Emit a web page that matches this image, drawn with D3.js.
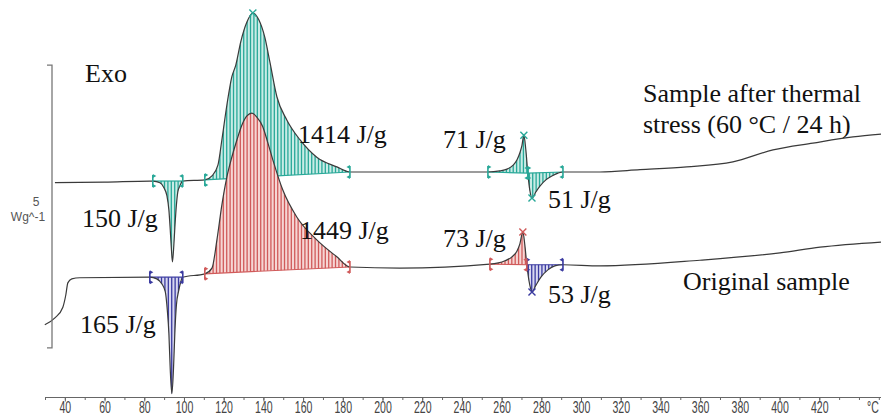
<!DOCTYPE html>
<html><head><meta charset="utf-8">
<script src="https://cdn.jsdelivr.net/npm/d3@7"></script>
<style>body{margin:0;background:#fff}svg{display:block}</style>
</head><body><svg id="c" width="881" height="419"></svg>
<script>
// ---- data (temperature °C, heat flow W/g, arbitrary offset) ----
const tempUpper = [35.0, 60, 82.8, 84.3, 87.9, 89.9, 91.4, 92.4, 93.1, 93.7, 94.2, 94.9, 95.4,
  96.2, 96.9, 97.9, 99.4,
  110.5, 114.1, 117.1, 119.1, 121.6, 124.1, 126.1, 128.6, 131.7, 134.7, 137.7, 140.8, 143.3, 146.8,
  151.8, 158.4, 166.9, 177.0, 183.6, 208.8, 253.1, 259.1, 262.7, 265.8, 267.7, 269.2, 270.2, 271.2,
  272.2, 273.2, 274.2, 275.3, 277.3, 279.3, 282.3, 285.3, 288.4, 290.9, 309.5, 329.7, 353.3, 376.5,
  396.7, 416.8, 437.0, 451.1];
const hfUpper = [3.77, 3.78, 3.80, 3.80, 3.77, 3.68, 3.54, 3.29, 2.93, 2.58, 2.37, 2.67, 2.97,
  3.38, 3.61, 3.71, 3.80,
  3.82, 3.89, 4.08, 4.53, 5.14, 5.64, 5.85, 6.26, 6.61, 6.77, 6.65, 6.33, 5.90, 5.29,
  4.88, 4.53, 4.22, 4.05, 3.96, 3.96, 3.96, 3.98, 4.01, 4.08, 4.17, 4.30, 4.42, 4.61,
  4.35, 3.94, 3.64, 3.50, 3.61, 3.71, 3.82, 3.89, 3.94, 3.96, 3.96, 4.00, 4.05, 4.14,
  4.35, 4.47, 4.58, 4.63];
const tempLower = [29.9, 35.0, 39.0, 40.5, 41.5, 43.5, 47.6, 82.8, 86.3, 88.9, 90.6, 91.6, 92.4,
  93.1, 93.9, 94.7, 95.4, 96.2, 97.4, 98.4, 99.4,
  110.5, 114.1, 116.6, 119.1, 121.6, 124.1, 126.7, 129.2, 131.7,
  134.2, 136.7, 139.7, 142.3, 144.8, 149.8, 156.9, 166.9, 177.0, 183.6, 208.8, 254.1, 261.7,
  265.2, 267.7, 269.2, 270.7, 271.7, 272.7, 274.2, 275.3, 277.3, 279.8, 283.3, 286.8, 290.9,
  309.5, 359.9, 400.2, 420.4, 451.1];
const hfLower = [1.26, 1.38, 1.57, 1.79, 2.00, 2.07, 2.09, 2.10, 2.07, 1.98, 1.84, 1.52, 1.11,
  0.46, 0.04, 0.46, 1.11, 1.61, 1.87, 2.02, 2.10,
  2.16, 2.26, 2.76, 3.38, 3.87, 4.22, 4.53, 4.79, 4.95,
  5.00, 4.93, 4.76, 4.47, 4.17, 3.64, 3.16, 2.76, 2.46, 2.28, 2.26, 2.33, 2.39,
  2.46, 2.56, 2.69, 2.90, 2.67, 2.32, 1.96, 1.84, 1.96, 2.10, 2.23, 2.30, 2.32,
  2.30, 2.40, 2.53, 2.63, 2.72];

// integration limits
const upperStart = [84.3, 110.5, 253.1, 273.2];
const upperEnd   = [99.4, 183.6, 273.2, 290.9];
const upperKind  = ["teal", "teal", "teal", "teal"];
const lowerStart = [82.8, 110.5, 254.1, 272.7];
const lowerEnd   = [99.4, 183.6, 272.7, 290.9];
const lowerKind  = ["blue", "red", "red", "blue"];
// peak markers
const upperPeakT = [134.7, 271.2, 275.3];
const lowerPeakT = [270.7, 275.3];
const lowerPeakKind = ["red", "blue"];

const xTicks = d3.range(40, 421, 20);
const xMinor = d3.range(30, 451, 10);
const scaleBar = [0.85, 5.85];

const palette = {
  teal: {stroke: "#28a898", fill: "#c9ece6"},
  red:  {stroke: "#d05a5a", fill: "#f6d6d4"},
  blue: {stroke: "#3a3aa0", fill: "#d8d8f0"}
};

// ---- scales ----
const svg = d3.select("#c");
const x = d3.scaleLinear().domain([30, 451.1]).range([45, 881]);
const y = d3.scaleLinear().domain([0, 7]).range([396, 0]);

const upper = tempUpper.map((t, i) => ({t, v: hfUpper[i]}));
const lower = tempLower.map((t, i) => ({t, v: hfLower[i]}));

const curveType = d3.curveMonotoneX;
const line = d3.line().x(d => x(d.t)).y(d => y(d.v)).curve(curveType);

const defs = svg.append("defs");
const gFill = svg.append("g");
let clipId = 0;

function drawRegions(series, starts, ends, kinds) {
  starts.forEach((t0, i) => {
    const t1 = ends[i];
    const p0 = series.find(d => d.t === t0), p1 = series.find(d => d.t === t1);
    const pts = series.filter(d => d.t >= t0 && d.t <= t1);
    const base = t => p0.v + (p1.v - p0.v) * (t - t0) / (t1 - t0);
    const area = d3.area().x(d => x(d.t)).y0(d => y(base(d.t))).y1(d => y(d.v)).curve(curveType);
    const col = palette[kinds[i]];
    const id = "clip" + (clipId++);
    defs.append("clipPath").attr("id", id).append("path").attr("d", area(pts));
    const g = gFill.append("g").attr("clip-path", `url(#${id})`);
    g.append("path").attr("d", area(pts)).attr("fill", col.fill);
    const xs = d3.range(x(t0) + 1.5, x(t1), 3.4);
    g.selectAll("line").data(xs).join("line")
      .attr("x1", d => d).attr("x2", d => d).attr("y1", 0).attr("y2", 419)
      .attr("stroke", col.stroke).attr("stroke-width", 1.3);
    gFill.append("line").attr("x1", x(t0)).attr("x2", x(t1))
      .attr("y1", y(p0.v)).attr("y2", y(p1.v))
      .attr("stroke", col.stroke).attr("stroke-width", 1.2);
  });
}
drawRegions(upper, upperStart, upperEnd, upperKind);
drawRegions(lower, lowerStart, lowerEnd, lowerKind);

// curves
svg.append("path").datum(upper).attr("d", line).attr("fill", "none")
  .attr("stroke", "#3a3a3a").attr("stroke-width", 1.2);
svg.append("path").datum(lower).attr("d", line).attr("fill", "none")
  .attr("stroke", "#3a3a3a").attr("stroke-width", 1.2);

// limit markers
function limitMarker(series, t, kind, dir) {
  const p = series.find(d => d.t === t);
  const cx = x(t), cy = y(p.v), col = palette[kind].stroke;
  const g = svg.append("g");
  g.append("line").attr("x1", cx).attr("x2", cx).attr("y1", cy - 6).attr("y2", cy + 6)
    .attr("stroke", col).attr("stroke-width", 1.6);
  [-5, 5].forEach(o => {
    g.append("path").attr("d", `M${cx},${cy + o - 2}L${cx + 3.5 * dir},${cy + o}L${cx},${cy + o + 2}Z`)
      .attr("fill", col);
  });
}
upperStart.forEach((t, i) => limitMarker(upper, t, upperKind[i], 1));
upperEnd.forEach((t, i) => limitMarker(upper, t, upperKind[i], -1));
lowerStart.forEach((t, i) => limitMarker(lower, t, lowerKind[i], 1));
lowerEnd.forEach((t, i) => limitMarker(lower, t, lowerKind[i], -1));

// peak crosses
function cross(series, t, kind) {
  const p = series.find(d => d.t === t);
  const cx = x(t), cy = y(p.v), s = 3.5, col = palette[kind].stroke;
  svg.append("path").attr("d", `M${cx - s},${cy - s}L${cx + s},${cy + s}M${cx - s},${cy + s}L${cx + s},${cy - s}`)
    .attr("stroke", col).attr("stroke-width", 1.4);
}
upperPeakT.forEach(t => cross(upper, t, "teal"));
lowerPeakT.forEach((t, i) => cross(lower, t, lowerPeakKind[i]));

// x axis
const sx = 0.66;
const axisG = svg.append("g").attr("transform", `translate(0,${y(0) + 1})`);
axisG.append("g").call(d3.axisBottom(x).tickValues(xMinor).tickSize(3).tickFormat(""))
  .call(g => g.select(".domain").remove())
  .selectAll("line").attr("stroke", "#666");
const major = axisG.append("g").call(d3.axisBottom(x).tickValues(xTicks).tickSize(4.5).tickSizeOuter(0).tickFormat(d3.format("d")));
major.select(".domain").attr("stroke", "#666").attr("stroke-width", 1.2);
major.selectAll("line").attr("stroke", "#666");
major.selectAll("text").attr("y", 5).attr("fill", "#444")
  .attr("font-family", "Liberation Sans, Arial, sans-serif").attr("font-size", 16)
  .attr("transform", `scale(${sx},1)`);
svg.append("text").attr("x", 0).attr("y", y(0) + 17.5).attr("text-anchor", "middle")
  .attr("transform", `translate(873,0) scale(${sx},1)`)
  .attr("fill", "#444").attr("font-family", "Liberation Sans, Arial, sans-serif").attr("font-size", 16)
  .text("°C");

// scale bar
const sb = svg.append("g").attr("stroke", "#777").attr("stroke-width", 1.3).attr("fill", "none");
sb.append("path").attr("d", `M47,${y(scaleBar[1])}H52V${y(scaleBar[0])}H47`);
svg.append("text").attr("x", 36).attr("y", 206).attr("text-anchor", "middle")
  .attr("font-family", "Liberation Sans, Arial, sans-serif").attr("font-size", 12).attr("fill", "#555").text("5");
svg.append("text").attr("x", 28).attr("y", 221).attr("text-anchor", "middle")
  .attr("font-family", "Liberation Sans, Arial, sans-serif").attr("font-size", 12).attr("fill", "#555").text("Wg^-1");

// annotations
const labels = [
  ["Exo", 85, 82], ["150 J/g", 82, 227], ["165 J/g", 80, 333],
  ["1414 J/g", 298, 143], ["1449 J/g", 300, 239],
  ["71 J/g", 443, 148], ["51 J/g", 548, 208], ["73 J/g", 443, 247], ["53 J/g", 548, 303],
  ["Sample after thermal", 643, 102], ["stress (60 °C / 24 h)", 643, 133], ["Original sample", 683, 290]
];
svg.append("g").selectAll("text").data(labels).join("text")
  .attr("x", d => d[1]).attr("y", d => d[2])
  .attr("font-family", "Liberation Serif, 'Times New Roman', serif").attr("font-size", 26)
  .attr("fill", "#111").text(d => d[0]);
</script></body></html>
